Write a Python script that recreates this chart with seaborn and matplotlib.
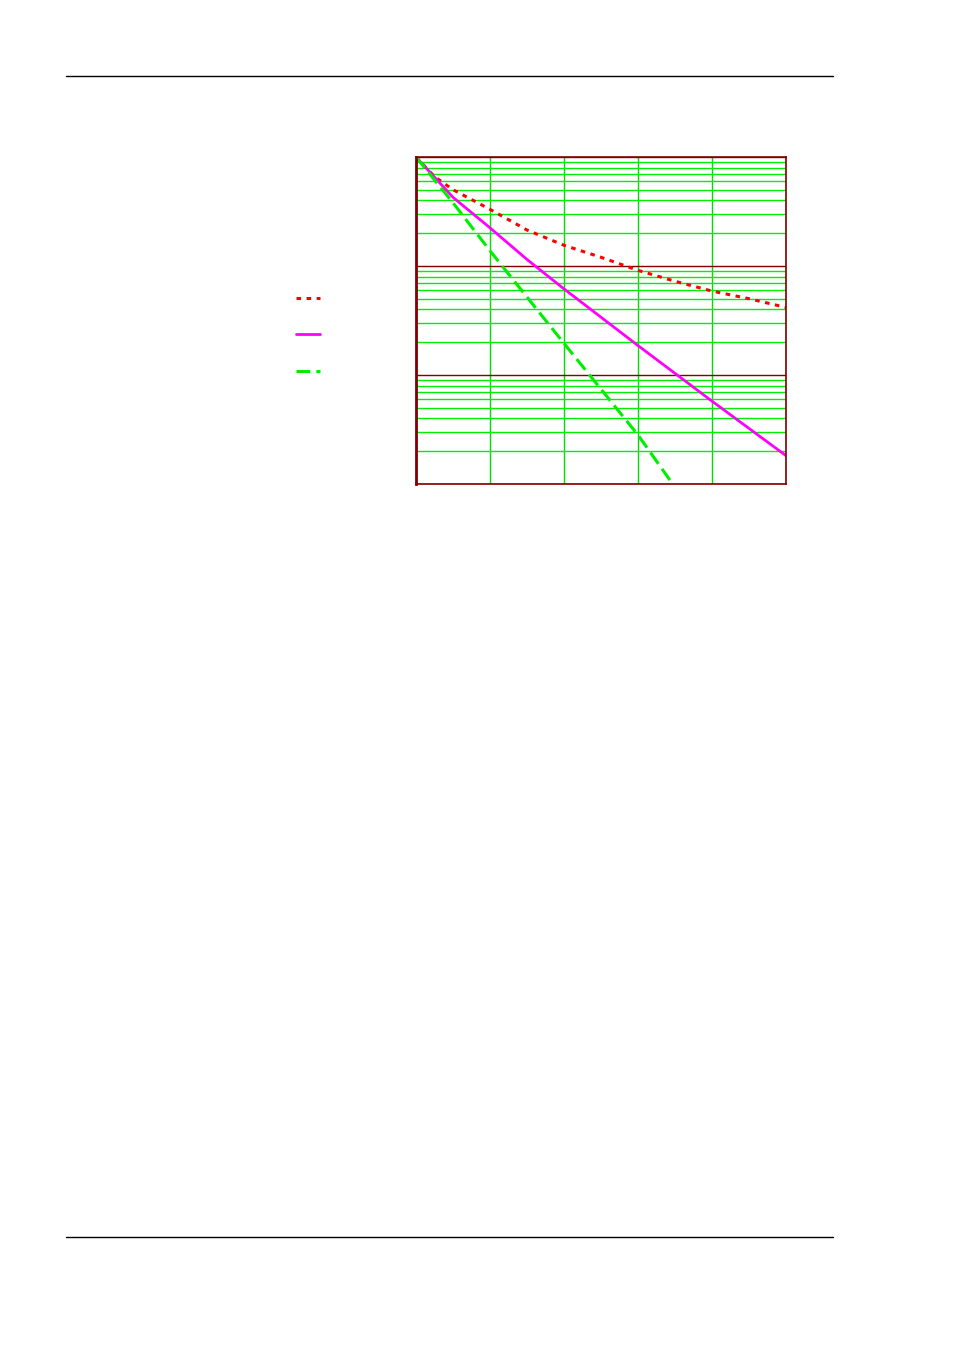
import numpy as np
import pandas as pd
import matplotlib
matplotlib.use('Agg')
import matplotlib.pyplot as plt
import seaborn as sns
from matplotlib.lines import Line2D

# values (y as log10 decades below 1)
x_red = [0, 0.25, 0.5, 1.0, 1.5, 2.0, 2.5, 3.0, 3.5, 4.0, 4.5, 5.0]
dec_red = [0, 0.18, 0.30, 0.48, 0.67, 0.81, 0.92, 1.04, 1.14, 1.23, 1.30, 1.38]
x_mag = [0, 0.5, 1.0, 1.5, 2.0, 3.0, 4.0, 5.0]
dec_mag = [0, 0.37, 0.65, 0.94, 1.21, 1.73, 2.24, 2.74]
x_grn = [0, 0.5, 1.0, 2.0, 3.0, 3.5]
dec_grn = [0, 0.42, 0.86, 1.71, 2.55, 3.03]

red = pd.DataFrame({'x': x_red, 'y': 10.0 ** -np.array(dec_red)})
mag = pd.DataFrame({'x': x_mag, 'y': 10.0 ** -np.array(dec_mag)})
grn = pd.DataFrame({'x': x_grn, 'y': 10.0 ** -np.array(dec_grn)})

sns.set_style('white')
fig = plt.figure(figsize=(9.54, 13.51), dpi=100)
ax = fig.add_axes([416/954, 1-484/1351, 370/954, 327/1351])

sns.lineplot(data=red, x='x', y='y', ax=ax, color='#ff0000', lw=2.2,
             linestyle=(0, (1.5, 1.8)), label=' ')
sns.lineplot(data=mag, x='x', y='y', ax=ax, color='#ff00ff', lw=2, label=' ')
sns.lineplot(data=grn, x='x', y='y', ax=ax, color='#00ee00', lw=2.2,
             linestyle=(0, (4.5, 2.0)), label=' ')

ax.set_yscale('log')
ax.set_xlim(0, 5)
ax.set_ylim(1e-3, 1)
ax.set_xticks([0, 1, 2, 3, 4, 5])
ax.grid(True, which='major', axis='x', color='#00dd00', lw=1)
ax.grid(True, which='major', axis='y', color='#800000', lw=1)
ax.grid(True, which='minor', axis='y', color='#00ee00', lw=1)
ax.set_axisbelow(True)
ax.tick_params(which='both', length=0, labelleft=False, labelbottom=False)
ax.set_xlabel('')
ax.set_ylabel('')
for s in ax.spines.values():
    s.set_color('#800000')
    s.set_linewidth(1.2)
ax.spines['left'].set_linewidth(2)

ax.legend(loc='upper left', bbox_to_anchor=(283/954, 1-279/1351),
          bbox_transform=fig.transFigure, frameon=False, handlelength=1.73,
          labelspacing=1.62, fontsize=10)

fig.add_artist(Line2D([66/954, 833/954], [1-76/1351, 1-76/1351], color='black', lw=1))
fig.add_artist(Line2D([66/954, 833/954], [1-1237/1351, 1-1237/1351], color='black', lw=1))

fig.savefig('out.png', dpi=100)
